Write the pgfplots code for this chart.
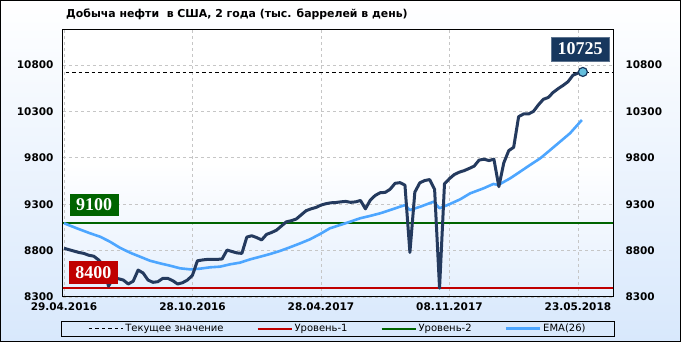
\documentclass[border=0pt]{standalone}
\usepackage{pgfplots}
\pgfplotsset{compat=1.18}
\usepackage{fontspec}
\setmainfont{DejaVu Sans}
\newfontfamily\numfont{Liberation Serif}
\definecolor{darkline}{RGB}{36,58,94}
\definecolor{emablue}{RGB}{77,166,255}
\definecolor{lvlred}{RGB}{192,0,0}
\definecolor{lvlgreen}{RGB}{0,100,0}
\definecolor{bgblue}{RGB}{216,232,252}
\definecolor{boxnavy}{RGB}{23,55,94}
\definecolor{markfill}{RGB}{100,190,220}

\pgfplotstableread{
i val
0 8825
1 8810
2 8795
3 8780
4 8770
5 8750
6 8740
7 8700
8 8640
9 8418
10 8501
11 8497
12 8483
13 8440
14 8470
15 8590
16 8559
17 8483
18 8458
19 8465
20 8501
21 8501
22 8476
23 8440
24 8454
25 8483
26 8534
27 8690
28 8699
29 8705
30 8706
31 8705
32 8710
33 8806
34 8790
35 8775
36 8770
37 8946
38 8960
39 8940
40 8915
41 8975
42 8995
43 9020
44 9065
45 9110
46 9122
47 9140
48 9185
49 9230
50 9250
51 9265
52 9290
53 9305
54 9315
55 9318
56 9325
57 9330
58 9320
59 9325
60 9340
61 9250
62 9345
63 9395
64 9424
65 9427
66 9461
67 9525
68 9532
69 9505
70 8780
71 9430
72 9530
73 9555
74 9565
75 9460
76 8395
77 9520
78 9575
79 9620
80 9645
81 9662
82 9685
83 9710
84 9775
85 9785
86 9770
87 9785
88 9489
89 9745
90 9877
91 9913
92 10243
93 10272
94 10272
95 10300
96 10370
97 10430
98 10450
99 10505
100 10545
101 10580
102 10620
103 10690
104 10712
105 10725
}\oil

\pgfplotstableread{
i val
0 9095
2.6 9040
5.3 8986
7.3 8950
9.3 8896
11.3 8831
13.4 8777
15.4 8734
17.4 8691
19.4 8663
21.5 8637
23.5 8609
25.5 8598
27.5 8605
29.6 8620
31.6 8627
33.6 8652
35.6 8670
37.7 8706
39.7 8734
41.7 8763
43.7 8796
45.7 8835
47.8 8878
49.8 8922
51.8 8978
53.8 9040
55.9 9076
57.9 9111
59.9 9148
61.9 9173
64 9202
66 9237
68 9273
69 9290
70 9237
72.1 9273
74.8 9327
76 9256
78.1 9302
80.2 9353
82.2 9417
84.9 9471
86.9 9518
87.9 9507
90.3 9579
92.3 9650
94.3 9722
96.4 9795
98.4 9884
100.4 9974
102.4 10064
104.8 10207
}\ema

\begin{document}
\begin{tikzpicture}[x=1pt,y=1pt]
\shade[top color=white,bottom color=bgblue] (-63,-45) rectangle (618,297);
\draw[black,line width=1pt] (-62.5,-44.5) rectangle (617.5,296.5);
\node[anchor=base west,inner sep=0pt,font=\bfseries\fontsize{10.9}{13}\selectfont] at (3,279) {Добыча нефти\ \ в США, 2 года (тыс. баррелей в день)};

\begin{axis}[
  at={(0,0)}, anchor=south west,
  scale only axis, width=550pt, height=267pt,
  xmin=-0.2, xmax=111.1, ymin=8300, ymax=11177,
  axis background/.style={top color=white,bottom color=bgblue!70,middle color=white},
  axis line style={black,line width=1pt},
  xtick={0,26,52,78,104},
  xticklabels={29.04.2016,28.10.2016,28.04.2017,08.11.2017,23.05.2018},
  ytick={8300,8800,9300,9800,10300,10800},
  scaled y ticks=false,
  grid=major,
  major grid style={gray!45,dash pattern=on 3pt off 3pt,line width=0.6pt},
  major tick length=0pt,
  /pgf/number format/assume math mode=true,
  /pgf/number format/set thousands separator={},
  yticklabel style={font=\bfseries\fontsize{10.5}{12}\selectfont,xshift=-6pt},
  xticklabel style={font=\bfseries\fontsize{10.5}{12}\selectfont,yshift=-2pt},
  clip=true,
  legend columns=4,
  legend style={at={(0.5,-0.0888)},anchor=north,draw=black,line width=0.8pt,fill=none,
    font=\fontsize{10}{11}\selectfont,inner xsep=27pt,inner ysep=1pt,
    /tikz/every even column/.append style={column sep=31pt}},
  legend image code/.code={\draw[#1] (0pt,0pt) -- (34pt,0pt);},
]
\addplot[black,line width=0.8pt,dash pattern=on 3.5pt off 3pt] coordinates {(-1,10725) (112,10725)};
\addlegendentry{Текущее значение}
\addplot[lvlred,line width=2pt] coordinates {(-1,8400) (112,8400)};
\addlegendentry{Уровень-1}
\addplot[lvlgreen,line width=2pt] coordinates {(-1,9100) (112,9100)};
\addlegendentry{Уровень-2}
\addplot[emablue,line width=2.6pt,line join=round] table[x=i,y=val] {\ema};
\addlegendentry{EMA(26)}
\addplot[darkline,line width=3pt,line join=round,forget plot] table[x=i,y=val] {\oil};
\addplot[only marks,mark=*,mark size=4.5pt,mark options={fill=markfill,draw=boxnavy,line width=1.2pt},forget plot] coordinates {(105,10725)};

\node[fill=lvlgreen,text=white,font=\numfont\bfseries\fontsize{18}{18}\selectfont,minimum width=49pt,minimum height=22pt,inner sep=0pt] at (axis cs:6.1,9291) {9100};
\node[fill=lvlred,text=white,font=\numfont\bfseries\fontsize{18}{18}\selectfont,minimum width=49pt,minimum height=23pt,inner sep=0pt] at (axis cs:5.97,8564) {8400};
\node[fill=boxnavy,draw=boxnavy!70,text=white,font=\numfont\bfseries\fontsize{18}{18}\selectfont,minimum width=58pt,minimum height=24pt,inner sep=0pt] at (axis cs:104.45,10972) {10725};
\end{axis}

\begin{axis}[
  at={(0,0)}, anchor=south west,
  scale only axis, width=550pt, height=267pt,
  xmin=-0.2, xmax=111.1, ymin=8300, ymax=11177,
  axis y line*=right, hide x axis,
  axis line style={black,line width=1pt},
  ytick={8300,8800,9300,9800,10300,10800},
  scaled y ticks=false,
  major tick length=0pt,
  /pgf/number format/assume math mode=true,
  /pgf/number format/set thousands separator={},
  yticklabel style={font=\bfseries\fontsize{10.5}{12}\selectfont,xshift=9pt},
]
\addplot[draw=none] coordinates {(0,8300)};
\end{axis}
\end{tikzpicture}
\end{document}
